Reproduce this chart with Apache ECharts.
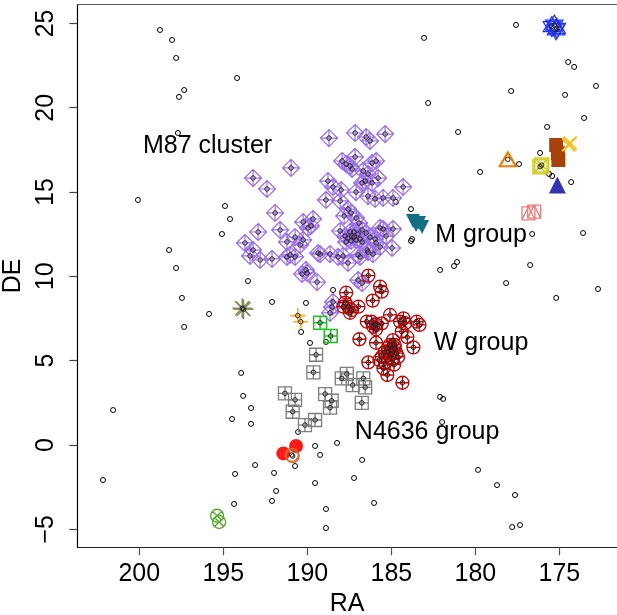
<!DOCTYPE html>
<html><head><meta charset="utf-8">
<script src="https://cdn.jsdelivr.net/npm/echarts@6/dist/echarts.min.js"></script>
<style>html,body{margin:0;padding:0;background:#fff}#c{width:617px;height:615px}</style>
</head><body><div id="c"></div>
<script>
const xTicks = [200, 195, 190, 185, 180, 175];
const yTicks = [-5, 0, 5, 10, 15, 20, 25];

// isolated galaxies (small open circles)
const field = [
[201.56,2.07],[202.16,-2.08],[200.08,14.53],[198.77,24.61],[198.05,24.02],[197.81,22.95],
[197.33,21.05],[197.64,20.64],[197.70,18.50],[198.23,11.56],[197.81,10.49],[197.46,8.72],
[197.33,7.00],[194.18,21.76],[194.90,14.17],[194.60,13.40],[195.08,12.51],[193.53,9.72],
[184.72,14.41],[183.83,13.99],[183.83,12.10],[183.77,12.21],[188.47,9.19],[190.08,8.42],
[189.84,6.05],[188.89,6.11],[182.10,10.38],[181.27,10.61],[181.09,10.85],[182.10,2.85],
[181.92,2.73],[193.94,4.27],[193.82,2.91],[193.35,2.19],[194.48,1.54],[193.35,1.25],
[190.55,0.77],[189.54,-0.06],[189.24,-0.59],[188.23,0.12],[186.74,-0.89],[193.11,-1.19],
[190.73,-1.25],[194.30,-1.72],[191.98,-1.66],[189.54,-2.26],[187.22,-1.96],[191.86,-2.73],
[192.10,-3.32],[194.36,-3.50],[188.89,-3.80],[186.03,-3.44],[188.89,-4.93],[192.10,8.48],
[195.85,7.77],[190.37,6.70],[177.58,24.91],[174.48,22.71],[174.12,22.42],[177.87,20.99],
[174.66,20.76],[172.82,21.29],[173.53,19.39],[175.73,18.86],[176.15,17.32],[177.40,16.66],
[179.72,16.19],[175.61,16.07],[175.43,15.95],[174.30,15.59],[183.05,24.14],[182.81,20.28],
[181.03,18.56],[176.62,12.51],[172.70,9.25],[173.59,12.57],[175.19,8.72],[176.74,10.67],
[178.17,9.60],[179.84,-1.48],[178.71,-2.38],[177.64,-2.97],[177.34,-4.75],[177.81,-4.87],
[181.98,1.36]
];

const m87 = [
[188.71,18.20],[187.16,18.50],[186.50,18.26],[186.27,18.03],[185.37,18.44],
[190.97,16.43],[193.23,15.83],[192.40,15.18],[187.93,16.84],[187.69,16.66],
[187.46,16.54],[187.16,17.08],[187.34,16.37],[186.68,16.25],[186.39,16.07],
[186.15,16.72],[185.91,16.84],[185.79,15.83],[186.15,15.54],[186.56,15.65],
[188.77,15.65],[188.47,15.30],[187.99,15.12],[187.10,15.00],[186.74,15.54],
[186.39,14.76],[185.97,14.59],[185.49,14.65],[184.90,14.65],[184.30,15.30],
[188.89,14.53],[188.05,14.47],[191.92,13.76],[190.25,13.22],[189.66,13.40],
[189.96,12.87],[187.58,13.99],[187.40,13.76],[187.10,13.46],[187.81,13.58],
[186.92,13.16],[186.74,12.75],[187.75,12.39],[188.05,12.69],[187.22,12.33],
[187.46,12.63],[187.40,12.10],[186.86,12.21],[186.50,12.57],[186.27,12.33],
[185.91,11.98],[185.31,12.39],[184.90,12.81],[185.67,12.87],[184.96,11.68],
[186.39,11.44],[186.98,11.27],[187.87,11.21],[188.65,11.32],[189.36,11.38],
[191.03,11.27],[190.43,11.86],[190.25,12.16],[190.73,12.33],[191.21,12.04],
[191.62,12.75],[192.93,12.63],[193.23,11.56],[192.81,10.97],[192.10,11.03],
[193.71,11.98],[193.41,11.21],[190.08,10.38],[190.31,10.14],[189.42,9.66],
[186.98,9.78],[186.74,9.60],[190.02,10.20],[188.47,8.48],[188.53,8.18],
[188.65,7.83],[185.97,7.11],[185.49,12.81],[185.67,11.74],[186.09,11.32],
[186.44,11.56],[186.86,11.15],[187.58,10.79],[188.17,11.15],[189.24,11.32],
[185.97,12.21],[187.34,12.39],[187.10,12.16],[187.58,12.27],[186.98,12.51],
[186.74,12.04],[187.69,12.04],[187.22,12.63],[189.78,12.99],[191.21,11.15],[190.73,11.15]
];

const wGroup = [
[186.37,10.04],[185.67,9.39],[185.57,9.09],[186.11,8.56],[187.69,9.03],[187.75,8.44],
[187.56,8.20],[187.36,8.00],[186.96,8.20],[187.46,7.84],[187.86,8.20],[185.08,7.71],
[184.28,7.51],[184.48,7.31],[184.18,7.22],[183.49,7.31],[183.33,7.12],[186.46,7.31],
[186.17,7.31],[185.91,7.15],[185.57,7.21],[185.91,6.86],[186.07,7.01],[184.38,6.72],
[184.05,6.39],[186.90,6.27],[185.91,6.06],[183.69,5.79],
[185.20,5.75],[185.00,5.63],[184.80,5.93],[185.10,5.33],[184.70,5.45],[185.40,5.51],
[184.90,6.22],[184.60,5.22],[185.10,5.93],[184.80,5.75],[185.00,5.40],[184.90,5.10],
[185.57,5.23],[185.71,5.04],[185.37,4.84],[184.84,4.76],[185.47,4.55],[185.24,4.15],
[184.34,3.69],[186.37,4.90]
];

const n4636 = [
[189.48,5.35],[189.64,4.31],[191.33,3.06],[190.73,2.67],[190.87,1.97],[190.14,1.18],
[189.54,1.48],[188.94,3.02],[188.55,2.62],[188.65,2.21],[187.95,3.95],[187.65,4.21],
[187.30,3.55],[186.67,3.95],[186.56,3.42],[186.76,2.50]
];

const mGroup = [[183.71,13.28],[183.35,13.16],[183.17,12.93],[183.53,13.04]];
const blueStars = [[175.45,24.81],[175.15,24.71],[175.30,24.90],[175.20,24.62]];
const orangeTri = [[178.07,16.94]];
const yellowSqX = [[176.15,16.50],[176.05,16.60]];
const brownSq = [[175.19,17.79],[175.09,17.30],[175.06,16.90]];
const yellowX = [[174.36,17.89],[174.45,17.80]];
const blueTri = [[175.12,15.42]];
const pinkSqTri = [[176.84,13.74],[176.50,13.84]];
const oliveStar = [[193.87,8.11],[193.80,8.05]];
const orangePlus = [[190.57,7.67],[190.39,7.31]];
const greenSqPlus = [[189.24,7.25],[188.61,6.46]];
const redDots = [[191.43,-0.50],[190.67,-0.06]];
const brownCirc = [[190.93,-0.59],[190.87,-0.66]];
const greenCircX = [[195.37,-4.20],[195.25,-4.57]];

const labelNames = ['M87 cluster', 'M group', 'W group', 'N4636 group'];
const labelRA = [195.94, 179.66, 179.66, 182.87];
const labelDE = [17.73, 12.45, 6.05, 0.77];

const CIRC = 'M-1,0A1,1,0,1,0,1,0A1,1,0,1,0,-1,0Z';
const SYM = {
  diamondPlus: 'path://M0,-1L1,0L0,1L-1,0ZM0,-1L0,1M-1,0L1,0',
  circPlus: 'path://' + CIRC + 'M-1,0L1,0M0,-1L0,1',
  sqPlus: 'path://M-1,-1L1,-1L1,1L-1,1ZM0,-1L0,1M-1,0L1,0',
  sqX: 'path://M-1,-1L1,-1L1,1L-1,1ZM-1,-1L1,1M1,-1L-1,1',
  circX: 'path://' + CIRC + 'M-0.7071,-0.7071L0.7071,0.7071M0.7071,-0.7071L-0.7071,0.7071',
  hexagram: 'path://M0,-1L0.866,0.5L-0.866,0.5ZM0,1L0.866,-0.5L-0.866,-0.5Z',
  sqTri: 'path://M-1,-1L1,-1L1,1L-1,1ZM-1,1L0,-1L1,1',
  asterisk: 'path://M-1,0L1,0M0,-1L0,1M-0.7071,-0.7071L0.7071,0.7071M0.7071,-0.7071L-0.7071,0.7071',
  plus: 'path://M-1,0L1,0M0,-1L0,1',
  cross: 'path://M-1,-1L1,1M1,-1L-1,1',
  openTri: 'path://M0,-1L1,0.732L-1,0.732Z',
  downTri: 'path://M-1,-0.8L1,-0.8L0,1Z',
  circ: 'path://' + CIRC
};

function openSeries(data, symbol, size, color, lw, z) {
  return { type: 'scatter', data: data, symbol: symbol, symbolSize: size, symbolKeepAspect: true,
    itemStyle: { color: 'rgba(0,0,0,0)', borderColor: color, borderWidth: lw || 1.2, opacity: 1 },
    z: z || 2, silent: true, animation: false };
}
function filledSeries(data, symbol, size, color, z) {
  return { type: 'scatter', data: data, symbol: symbol, symbolSize: size,
    itemStyle: { color: color, borderWidth: 0, opacity: 1 }, z: z || 2, silent: true, animation: false };
}
const minusFmt = v => String(v).replace('-', '\u2212');

const members = [].concat(m87, wGroup, n4636, orangeTri, yellowSqX, greenSqPlus, brownCirc, orangePlus, oliveStar, blueStars);

const axisCol = '#222';
const chart = echarts.init(document.getElementById('c'), null, { renderer: 'canvas' });
chart.setOption({
  animation: false,
  backgroundColor: '#fff',
  grid: { left: 77.3, right: 0, top: 4.7, bottom: 67.7, containLabel: false, outerBoundsMode: 'none' },
  xAxis: [{
    type: 'value', inverse: true, min: 171.57, max: 203.69,
    name: 'RA', nameLocation: 'middle', nameGap: 38,
    nameTextStyle: { fontSize: 25, color: '#000', fontFamily: 'Liberation Sans' },
    axisLine: { show: true, onZero: false, lineStyle: { color: axisCol, width: 1.2 } },
    axisTick: { show: true, length: 8, customValues: xTicks, lineStyle: { color: '#555', width: 1.2 } },
    axisLabel: { show: true, customValues: xTicks, margin: 14, fontSize: 25, color: '#000', fontFamily: 'Liberation Sans', formatter: minusFmt },
    splitLine: { show: false }
  }, {
    type: 'value', position: 'top', inverse: true, min: 171.57, max: 203.69,
    axisLine: { show: true, onZero: false, lineStyle: { color: '#555', width: 1.2 } },
    axisTick: { show: false }, axisLabel: { show: false }, splitLine: { show: false }
  }],
  yAxis: {
    type: 'value', min: -6.07, max: 26.11,
    name: 'DE', nameLocation: 'middle', nameGap: 36, nameRotate: 90,
    nameTextStyle: { fontSize: 25, color: '#000', fontFamily: 'Liberation Sans' },
    axisLine: { show: true, onZero: false, lineStyle: { color: '#000', width: 1.2 } },
    axisTick: { show: true, length: 8, customValues: yTicks, lineStyle: { color: '#444', width: 1.2 } },
    axisLabel: { show: true, customValues: yTicks, rotate: 90, margin: 19, fontSize: 25, color: '#000', fontFamily: 'Liberation Sans', formatter: minusFmt },
    splitLine: { show: false }
  },
  series: [
    openSeries(field, SYM.circ, 5, '#000', 1, 1),
    openSeries(m87, SYM.diamondPlus, 17, '#9a6ee8', 1.2, 2),
    openSeries(wGroup, SYM.circPlus, 13, '#b30a0a', 1.3, 3),
    openSeries(n4636, SYM.sqPlus, 13, '#7d7d7d', 1.3, 3),
    filledSeries(mGroup, SYM.downTri, 14, '#146e84', 3),
    openSeries(blueStars, SYM.hexagram, 20, '#2233ee', 1.2, 3),
    openSeries(orangeTri, SYM.openTri, 16, '#ef7d00', 2.2, 3),
    openSeries(yellowSqX, SYM.sqX, 14, '#d0cc20', 1.5, 3),
    filledSeries(brownSq, 'rect', 14, '#a6430a', 3),
    openSeries(yellowX, SYM.cross, 13, '#f2c21e', 2, 3),
    filledSeries(blueTri, 'triangle', 17, '#3535b0', 3),
    openSeries(pinkSqTri, SYM.sqTri, 13, '#ea7c7c', 1.3, 3),
    openSeries(oliveStar, SYM.asterisk, 20, '#8a8a5e', 1.5, 3),
    openSeries(orangePlus, SYM.plus, 15, '#ffaa22', 1.6, 3),
    openSeries(greenSqPlus, SYM.sqPlus, 13, '#22c022', 1.5, 3),
    filledSeries(redDots, 'circle', 14, '#ff1a1a', 3),
    openSeries(brownCirc, SYM.circ, 13, '#cf6a28', 1.3, 4),
    openSeries(greenCircX, SYM.circX, 13, '#5aa83a', 1.4, 3),
    openSeries(members, SYM.circ, 4.5, '#222', 1, 5),
    {
      type: 'scatter', symbolSize: 0, silent: true, z: 6, animation: false,
      itemStyle: { opacity: 1 },
      data: labelNames.map((n, i) => ({ name: n, value: [labelRA[i], labelDE[i]] })),
      label: { show: true, position: 'inside', formatter: '{b}', fontSize: 25, color: '#000', opacity: 1, fontFamily: 'Liberation Sans' }
    }
  ]
});
</script></body></html>
